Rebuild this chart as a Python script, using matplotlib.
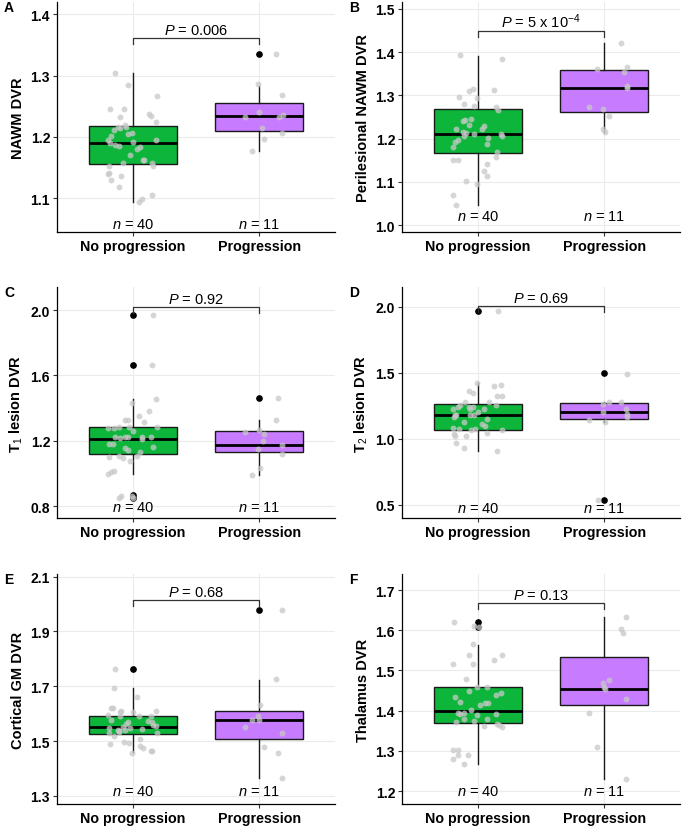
import matplotlib
matplotlib.use('Agg')
import matplotlib.pyplot as plt
import numpy as np

plt.rcParams['font.family'] = ['Liberation Sans', 'DejaVu Sans']
plt.rcParams['mathtext.fontset'] = 'custom'
plt.rcParams['mathtext.rm'] = 'Liberation Sans'
plt.rcParams['mathtext.it'] = 'Liberation Sans:italic'
plt.rcParams['mathtext.bf'] = 'Liberation Sans:bold'

# Data
groups = ['No progression', 'Progression']
n_labels = ['$n$ = 40', '$n$ = 11']
green = '#0DB63A'
purple = '#C77CFF'

# A: NAWM DVR
nawm_np = [1.304, 1.285, 1.267, 1.246, 1.245, 1.233, 1.237, 1.234, 1.225, 1.220,
           1.216, 1.212, 1.214, 1.207, 1.204, 1.201, 1.195, 1.190, 1.187, 1.186,
           1.191, 1.195, 1.184, 1.181, 1.171, 1.162, 1.157, 1.157, 1.153, 1.153,
           1.140, 1.136, 1.129, 1.118, 1.106, 1.099, 1.094, 1.216, 1.162, 1.141]
nawm_np_jit = [-0.14, -0.04, 0.19, -0.18, -0.07, -0.10, 0.13, 0.14, 0.18, -0.06,
               -0.05, -0.15, -0.10, -0.01, -0.04, -0.17, -0.20, -0.18, -0.14, -0.11,
               0.00, 0.18, 0.06, 0.03, -0.02, 0.08, -0.08, 0.15, 0.16, -0.19,
               -0.20, -0.09, -0.17, -0.11, 0.15, 0.07, 0.05, -0.12, 0.09, -0.19]
nawm_p = [1.336, 1.287, 1.269, 1.240, 1.232, 1.215, 1.233, 1.235, 1.206, 1.197, 1.177]
nawm_p_jit = [0.13, -0.01, 0.18, 0.00, -0.11, 0.02, 0.16, 0.19, 0.18, 0.04, -0.06]
nawm_box = [[1.1564, 1.1906, 1.2182, 1.0945, 1.304, []],
            [1.2101, 1.2334, 1.2546, 1.1775, 1.2823, [1.336]]]

# B: Perilesional NAWM DVR
peri_np = [1.394, 1.385, 1.297, 1.315, 1.309, 1.294, 1.3125, 1.280, 1.276, 1.272,
           1.266, 1.244, 1.245, 1.232, 1.223, 1.223, 1.216, 1.212, 1.211, 1.205,
           1.211, 1.207, 1.201, 1.197, 1.191, 1.187, 1.181, 1.169, 1.157, 1.150,
           1.150, 1.142, 1.125, 1.114, 1.103, 1.094, 1.070, 1.047, 1.240, 1.230]
peri_np_jit = [-0.14, 0.19, -0.15, -0.04, -0.07, -0.01, 0.13, -0.11, -0.03, 0.14,
               0.16, -0.10, -0.05, -0.07, -0.17, 0.03, -0.12, -0.09, -0.03, -0.11,
               0.18, 0.19, 0.08, -0.16, -0.18, 0.07, -0.20, 0.15, 0.14, -0.20,
               -0.16, 0.07, 0.05, 0.07, -0.09, -0.01, -0.20, -0.17, -0.12, 0.05]
peri_p = [1.421, 1.362, 1.365, 1.355, 1.321, 1.316, 1.272, 1.269, 1.252, 1.222, 1.2145]
peri_p_jit = [0.13, -0.06, 0.18, 0.16, 0.18, 0.18, -0.12, -0.01, 0.04, -0.01, 0.01]
peri_box = [[1.166, 1.211, 1.268, 1.047, 1.390, []],
            [1.261, 1.317, 1.359, 1.2145, 1.421, []]]

# C: T1 lesion DVR
t1_np = [1.971, 1.661, 1.457, 1.431, 1.382, 1.353, 1.329, 1.324, 1.314, 1.276,
         1.280, 1.284, 1.284, 1.284, 1.257, 1.224, 1.224, 1.224, 1.224, 1.224,
         1.214, 1.208, 1.182, 1.178, 1.163, 1.157, 1.143, 1.131, 1.102, 1.106,
         1.096, 1.106, 1.076, 1.014, 0.994, 1.008, 0.861, 0.847, 0.861, 0.847]
t1_np_jit = [0.16, 0.15, 0.18, -0.01, 0.13, 0.05, -0.06, -0.04, 0.09, -0.20,
             -0.15, -0.11, -0.03, 0.19, 0.00, -0.14, -0.06, -0.04, 0.07, 0.14,
             -0.10, 0.07, -0.19, -0.16, 0.16, -0.06, -0.04, 0.06, -0.19, -0.11,
             -0.08, 0.03, -0.02, -0.15, -0.20, -0.17, -0.09, -0.11, -0.01, 0.00]
t1_p = [1.463, 1.324, 1.265, 1.251, 1.243, 1.173, 1.116, 1.151, 1.033, 0.988, 1.200]
t1_p_jit = [0.15, 0.13, 0.00, -0.11, 0.04, 0.18, 0.18, -0.01, 0.01, -0.06, 0.03]
t1_box = [[1.116, 1.210, 1.282, 0.994, 1.457, [1.971, 1.661, 0.865, 0.851]],
          [1.131, 1.171, 1.259, 0.988, 1.324, [1.463]]]

# D: T2 lesion DVR
t2_np = [1.967, 1.422, 1.409, 1.399, 1.361, 1.351, 1.323, 1.323, 1.260, 1.280,
         1.278, 1.258, 1.242, 1.242, 1.240, 1.230, 1.227, 1.227, 1.207, 1.184,
         1.177, 1.182, 1.177, 1.162, 1.149, 1.129, 1.111, 1.098, 1.081, 1.071,
         1.068, 1.073, 1.066, 1.048, 1.040, 1.023, 1.025, 0.965, 0.934, 0.909]
t2_np_jit = [0.16, -0.01, 0.18, 0.13, -0.07, -0.04, 0.15, 0.19, 0.14, 0.09,
             -0.10, -0.14, -0.07, -0.04, -0.16, -0.20, -0.06, 0.05, 0.00, -0.18,
             -0.17, -0.06, -0.03, -0.19, 0.07, -0.11, 0.03, 0.06, -0.20, -0.15,
             -0.05, -0.02, 0.19, 0.07, -0.19, -0.18, -0.09, -0.17, -0.11, 0.15]
t2_p = [1.495, 1.278, 1.278, 1.263, 1.225, 1.200, 1.192, 1.162, 1.141, 1.126, 0.535]
t2_p_jit = [0.18, 0.04, 0.13, -0.01, 0.17, -0.01, 0.18, 0.18, -0.12, 0.01, -0.05]
t2_box = [[1.068, 1.182, 1.265, 0.909, 1.424, [1.967]],
          [1.152, 1.200, 1.268, 1.126, 1.278, [1.497, 0.537]]]

# E: Cortical GM DVR
gm_np = [1.764, 1.692, 1.660, 1.621, 1.621, 1.609, 1.607, 1.608, 1.595, 1.592,
         1.592, 1.591, 1.577, 1.571, 1.563, 1.570, 1.558, 1.556, 1.548, 1.5495,
         1.546, 1.542, 1.539, 1.539, 1.532, 1.530, 1.530, 1.517, 1.506, 1.497,
         1.492, 1.490, 1.482, 1.476, 1.464, 1.464, 1.455, 1.536, 1.573, 1.607]
gm_np_jit = [-0.14, -0.15, 0.03, -0.17, -0.16, -0.09, 0.00, 0.18, -0.20, -0.10,
             0.05, 0.14, -0.17, -0.04, -0.05, 0.15, 0.16, 0.18, -0.19, -0.08,
             -0.02, 0.07, -0.12, -0.06, -0.11, -0.19, 0.19, -0.15, 0.06, -0.07,
             -0.03, -0.18, 0.06, 0.08, 0.14, 0.15, -0.01, -0.11, 0.12, -0.10]
gm_p = [1.978, 1.726, 1.633, 1.591, 1.577, 1.575, 1.552, 1.531, 1.478, 1.458, 1.366]
gm_p_jit = [0.18, 0.13, 0.01, -0.01, -0.06, 0.00, -0.11, 0.18, 0.04, 0.15, 0.18]
gm_box = [[1.524, 1.5495, 1.593, 1.4605, 1.692, [1.764]],
          [1.506, 1.575, 1.610, 1.3655, 1.722, [1.978]]]

# F: Thalamus DVR
thal_np = [1.621, 1.611, 1.565, 1.538, 1.538, 1.515, 1.515, 1.525, 1.480, 1.459,
           1.459, 1.450, 1.433, 1.445, 1.438, 1.422, 1.419, 1.418, 1.413, 1.402,
           1.394, 1.394, 1.390, 1.393, 1.392, 1.379, 1.380, 1.374, 1.371, 1.366,
           1.362, 1.360, 1.301, 1.301, 1.281, 1.289, 1.289, 1.267, 1.609, 1.365]
thal_np_jit = [-0.19, -0.03, -0.04, -0.07, 0.19, -0.20, -0.04, 0.13, -0.09, -0.01,
               0.07, -0.07, -0.18, 0.18, 0.14, -0.14, 0.08, 0.06, 0.02, -0.05,
               -0.16, -0.11, -0.01, 0.14, -0.14, -0.11, 0.07, -0.03, -0.17, 0.15,
               0.05, 0.19, -0.20, -0.16, -0.20, -0.16, -0.08, -0.11, 0.01, 0.17]
thal_p = [1.634, 1.602, 1.592, 1.477, 1.470, 1.460, 1.455, 1.428, 1.395, 1.310, 1.231]
thal_p_jit = [0.17, 0.13, 0.15, 0.04, -0.01, 0.00, 0.01, 0.17, -0.12, -0.06, 0.17]
thal_box = [[1.369, 1.398, 1.459, 1.267, 1.563, [1.621, 1.609]],
            [1.413, 1.455, 1.534, 1.231, 1.633, []]]

panels = [
    ('A', 'NAWM DVR', nawm_np, nawm_np_jit, nawm_p, nawm_p_jit, nawm_box,
     '$P$ = 0.006', 1.361, (1.045, 1.42), [1.1, 1.2, 1.3, 1.4], 1.058),
    ('B', 'Perilesional NAWM DVR', peri_np, peri_np_jit, peri_p, peri_p_jit, peri_box,
     '$P$ = 5 x 10$^{-4}$', 1.449, (0.984, 1.516), [1.0, 1.1, 1.2, 1.3, 1.4, 1.5], 1.021),
    ('C', 'T$_1$ lesion DVR', t1_np, t1_np_jit, t1_p, t1_p_jit, t1_box,
     '$P$ = 0.92', 2.018, (0.727, 2.14), [0.8, 1.2, 1.6, 2.0], 0.794),
    ('D', 'T$_2$ lesion DVR', t2_np, t2_np_jit, t2_p, t2_p_jit, t2_box,
     '$P$ = 0.69', 2.008, (0.40, 2.15), [0.5, 1.0, 1.5, 2.0], 0.477),
    ('E', 'Cortical GM DVR', gm_np, gm_np_jit, gm_p, gm_p_jit, gm_box,
     '$P$ = 0.68', 2.016, (1.27, 2.11), [1.3, 1.5, 1.7, 1.9, 2.1], 1.318),
    ('F', 'Thalamus DVR', thal_np, thal_np_jit, thal_p, thal_p_jit, thal_box,
     '$P$ = 0.13', 1.668, (1.168, 1.74), [1.2, 1.3, 1.4, 1.5, 1.6, 1.7], 1.2),
]

# axes rectangles in figure fractions
lefts = [0.0833, 0.5877]
bottoms = [0.7186, 0.3732, 0.0278]
tops = [0.9964, 0.652, 0.3056]
width = 0.4065

fig = plt.figure(figsize=(6.84, 8.28), dpi=100)

for i, (letter, ylab, y1, j1, y2, j2, box, ptxt, ybr, ylim, yticks, ny) in enumerate(panels):
    row, col = i // 2, i % 2
    ax = fig.add_axes([lefts[col], bottoms[row], width, tops[row] - bottoms[row]])
    span = ylim[1] - ylim[0]

    stats = []
    for b in box:
        stats.append(dict(q1=b[0], med=b[1], q3=b[2], whislo=b[3], whishi=b[4], fliers=b[5]))
    bp = ax.bxp(stats, positions=[1, 2], widths=0.7, patch_artist=True, showcaps=False,
                boxprops=dict(linewidth=1.0, edgecolor='#1a1a1a'),
                whiskerprops=dict(linewidth=1.0, color='#1a1a1a'),
                medianprops=dict(linewidth=2.0, color='black'),
                flierprops=dict(marker='o', markerfacecolor='black', markeredgecolor='black',
                                markersize=3.8))
    bp['boxes'][0].set_facecolor(green)
    bp['boxes'][1].set_facecolor(purple)

    # jittered raw points
    ax.scatter(1 + np.array(j1), y1, s=18, color='#C8C8C8', alpha=0.75, linewidths=0, zorder=4)
    ax.scatter(2 + np.array(j2), y2, s=18, color='#C8C8C8', alpha=0.75, linewidths=0, zorder=4)

    # significance bracket
    drop = span * 0.026
    ax.plot([1, 1, 2, 2], [ybr - drop, ybr, ybr, ybr - drop], color='#333333', lw=0.9, zorder=5)
    ax.annotate(ptxt, (1.5, ybr), xytext=(0, 0.5), textcoords='offset points',
                ha='center', va='bottom', fontsize=10.5)

    # group sizes
    for k in range(2):
        ax.text(k + 1, ny, n_labels[k], ha='center', va='center', fontsize=10.5)

    ax.set_xlim(0.4, 2.6)
    ax.set_ylim(*ylim)
    ax.set_xticks([1, 2])
    ax.set_xticklabels(groups, fontsize=10.3, fontweight='bold')
    ax.set_yticks(yticks)
    ax.yaxis.set_major_formatter('{x:.1f}')
    for lab in ax.get_yticklabels():
        lab.set_fontweight('bold')
        lab.set_fontsize(10)
    ax.set_ylabel(ylab, fontsize=10.5, fontweight='bold', labelpad=4)
    ax.tick_params(axis='both', length=3, width=0.8, color='#333333', pad=2)
    ax.grid(True, color='#EBEBEB', linewidth=0.8)
    ax.set_axisbelow(True)
    ax.spines['top'].set_visible(False)
    ax.spines['right'].set_visible(False)
    ax.spines['left'].set_linewidth(0.9)
    ax.spines['bottom'].set_linewidth(0.9)

    fig.text(0.006 + 0.504 * col, tops[row] - 0.006, letter, fontsize=10, fontweight='bold',
             ha='left', va='center')

fig.savefig('out.png', dpi=100)
